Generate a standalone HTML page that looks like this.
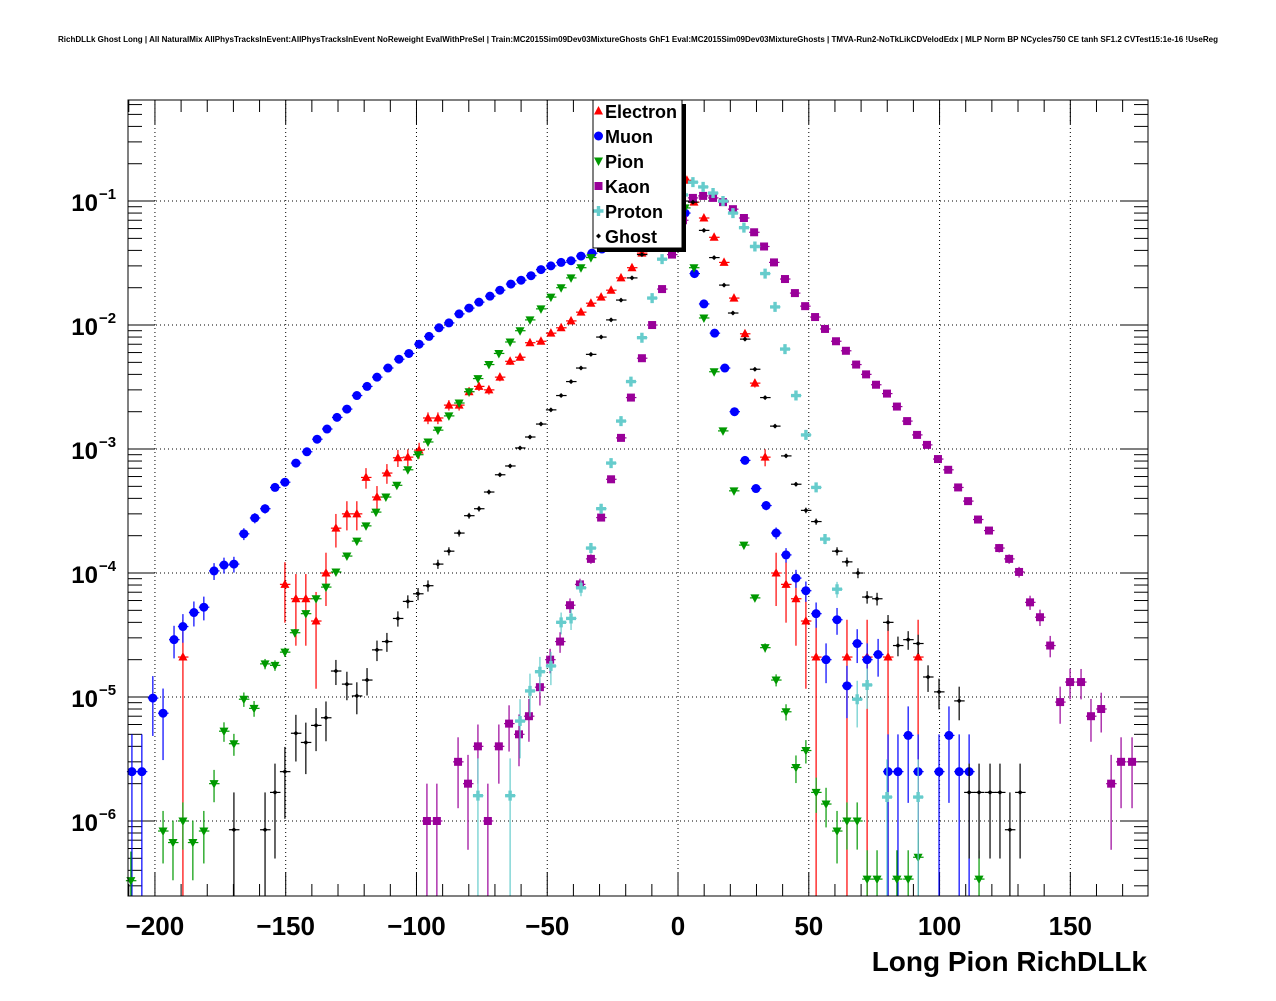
<!DOCTYPE html>
<html><head><meta charset="utf-8">
<style>
html,body{margin:0;padding:0;background:#fff;}
body{width:1276px;height:996px;overflow:hidden;font-family:"Liberation Sans",sans-serif;}
svg text{font-family:"Liberation Sans",sans-serif;font-weight:bold;}
</style></head>
<body>
<svg id="chart" width="1276" height="996" xmlns="http://www.w3.org/2000/svg">
<text x="638" y="42" font-size="8" text-anchor="middle" textLength="1160" lengthAdjust="spacingAndGlyphs">RichDLLk Ghost Long | All NaturalMix AllPhysTracksInEvent:AllPhysTracksInEvent NoReweight EvalWithPreSel | Train:MC2015Sim09Dev03MixtureGhosts GhF1 Eval:MC2015Sim09Dev03MixtureGhosts | TMVA-Run2-NoTkLikCDVelodEdx | MLP Norm BP NCycles750 CE tanh SF1.2 CVTest15:1e-16 !UseReg</text>
<g id="grid"></g>
<g id="axes"></g>
<g id="series"></g>
<rect x="128" y="100" width="1020" height="796" fill="none" stroke="#000" stroke-width="1"/>
<text x="1147" y="971" font-size="28" text-anchor="end">Long Pion RichDLLk</text>
<g id="legend"></g>
</svg>
<script>
// ---- data ----
const seriesNames = ["Electron","Muon","Pion","Kaon","Proton","Ghost"];
const electronX = [-189.3,-150.3,-146.1,-142.3,-138.4,-134.6,-130.8,-126.6,-122.8,-119.3,-115.1,-111.3,-107.1,-103.3,-99,-95.6,-91.8,-87.6,-83.7,-79.9,-76.1,-72.3,-68.1,-64.2,-60.4,-56.6,-52.4,-48.6,-44.7,-40.9,-37.1,-33.3,-29.4,-25.6,-21.8,-17.6,-13.8,-9.9,-5.7,-1.9,3.4,6.1,9.9,13.8,17.6,21.4,25.6,29.4,33.3,37.5,41.3,45.1,48.9,52.8,64.6,72.3,80.3,91.8];
const electronY = [2.1e-5,8.1e-5,6.2e-5,6.2e-5,4.1e-5,1.0e-4,2.3e-4,3.0e-4,3.0e-4,5.9e-4,4.1e-4,6.4e-4,8.5e-4,8.6e-4,9.8e-4,1.78e-3,1.78e-3,2.26e-3,2.26e-3,2.9e-3,3.2e-3,3.0e-3,3.8e-3,5.1e-3,5.5e-3,7.2e-3,7.4e-3,8.6e-3,9.5e-3,1.08e-2,1.27e-2,1.5e-2,1.68e-2,1.91e-2,2.4e-2,2.9e-2,3.8e-2,5.0e-2,7.0e-2,0.106,0.147,9.8e-2,7.3e-2,5.1e-2,3.2e-2,1.65e-2,8.5e-3,3.4e-3,8.6e-4,1.0e-4,8.1e-5,6.2e-5,4.1e-5,2.1e-5,2.1e-5,2.1e-5,2.1e-5,2.1e-5];
const muonX = [-208.8,-205,-200.8,-196.9,-192.7,-189.3,-185.1,-181.3,-177.4,-173.6,-169.8,-166,-161.8,-157.9,-154.1,-150.3,-146.1,-141.9,-138,-134.2,-130.4,-126.6,-122.8,-118.9,-115.1,-110.9,-106.7,-102.9,-99,-95.2,-91.4,-87.6,-83.7,-79.9,-76.1,-71.9,-68.1,-63.9,-60,-56.2,-52.4,-48.6,-44.7,-40.9,-37.1,-32.9,-29.1,-25.2,-21,-17.2,-13.4,-9.2,-5.4,-1.1,2.7,6.3,9.9,14,17.9,21.6,25.6,29.8,33.7,37.5,41.3,45.1,48.9,52.8,56.6,60.8,64.6,68.5,72.3,76.5,80.3,84.1,88,91.8,99.8,103.6,107.5,111.3];
const muonY = [2.5e-6,2.5e-6,9.8e-6,7.4e-6,2.9e-5,3.7e-5,4.8e-5,5.3e-5,1.04e-4,1.16e-4,1.18e-4,2.07e-4,2.78e-4,3.3e-4,4.9e-4,5.4e-4,7.7e-4,9.5e-4,1.2e-3,1.45e-3,1.8e-3,2.1e-3,2.7e-3,3.2e-3,3.8e-3,4.5e-3,5.3e-3,5.9e-3,7.0e-3,8.1e-3,9.5e-3,1.04e-2,1.23e-2,1.37e-2,1.53e-2,1.71e-2,1.91e-2,2.14e-2,2.3e-2,2.5e-2,2.8e-2,3.0e-2,3.2e-2,3.3e-2,3.6e-2,3.8e-2,4.1e-2,4.3e-2,4.6e-2,4.9e-2,5.2e-2,5.6e-2,6.2e-2,7.0e-2,8.0e-2,2.6e-2,1.48e-2,8.6e-3,4.5e-3,2.0e-3,8.1e-4,4.8e-4,3.5e-4,2.1e-4,1.4e-4,9.1e-5,7.2e-5,4.7e-5,2.0e-5,4.2e-5,1.23e-5,2.7e-5,2.0e-5,2.2e-5,2.5e-6,2.5e-6,4.9e-6,2.5e-6,2.5e-6,4.9e-6,2.5e-6,2.5e-6];
const pionX = [-209.2,-196.9,-193.1,-189.3,-185.5,-181.3,-177.4,-173.6,-169.8,-166,-162.1,-157.9,-154.1,-150.3,-146.5,-142.3,-138.4,-134.6,-130.8,-126.6,-122.8,-119.3,-115.5,-111.7,-107.5,-103.3,-99.4,-95.6,-91.8,-87.6,-83.7,-79.9,-76.5,-72.3,-68.5,-64.2,-60.4,-56.6,-52.4,-48.6,-44.7,-40.9,-37.1,-33.3,-29.4,-25.2,-21.4,-17.6,-13.4,-9.6,-5.7,-1.5,2.7,6.1,9.9,13.8,17.2,21.4,25.2,29.4,33.3,37.5,41.3,45.1,48.9,52.8,56.6,60.8,64.6,68.5,72.3,76.1,83.7,88,91.8,115.1];
const pionY = [3.3e-7,8.3e-7,6.7e-7,1.0e-6,6.7e-7,8.3e-7,2.0e-6,5.3e-6,4.2e-6,9.6e-6,8.1e-6,1.85e-5,1.8e-5,2.3e-5,3.3e-5,4.7e-5,6.2e-5,7.7e-5,1.02e-4,1.37e-4,1.81e-4,2.4e-4,3.1e-4,4.1e-4,5.1e-4,6.8e-4,9.0e-4,1.14e-3,1.42e-3,1.85e-3,2.35e-3,2.9e-3,3.7e-3,4.8e-3,5.9e-3,7.3e-3,9.0e-3,1.1e-2,1.35e-2,1.68e-2,2.0e-2,2.4e-2,2.9e-2,3.5e-2,4.2e-2,4.8e-2,5.6e-2,6.4e-2,7.4e-2,8.5e-2,9.3e-2,9.6e-2,8.8e-2,2.9e-2,1.14e-2,4.2e-3,1.4e-3,4.6e-4,1.68e-4,6.3e-5,2.5e-5,1.37e-5,7.6e-6,2.7e-6,3.7e-6,1.7e-6,1.37e-6,8.3e-7,1.0e-6,1.0e-6,3.4e-7,3.4e-7,3.4e-7,3.4e-7,5.1e-7,3.4e-7];
const kaonX = [-96,-92.2,-84.1,-80.3,-76.5,-72.7,-68.5,-64.6,-60.8,-57,-52.8,-48.9,-45.1,-41.3,-37.5,-33.3,-29.4,-25.6,-21.8,-18,-13.8,-9.9,-6.1,-2.3,1.9,5.7,9.6,13.4,17.2,21,25.2,29.1,32.9,36.7,40.9,44.7,48.6,52.4,56.2,60.4,64.2,68.1,71.9,75.7,79.9,83.7,87.6,91.4,95.2,99.4,103.3,107.1,110.9,114.7,118.9,122.8,126.6,130.4,134.6,138.4,142.3,146.1,149.9,154.1,157.9,161.8,165.6,169.4,173.6];
const kaonY = [1.0e-6,1.0e-6,3.0e-6,2.0e-6,4.0e-6,1.0e-6,4.0e-6,6.1e-6,5.0e-6,7.0e-6,1.2e-5,2.0e-5,2.8e-5,5.5e-5,8.1e-5,1.3e-4,2.8e-4,5.7e-4,1.23e-3,2.6e-3,5.4e-3,1.0e-2,1.95e-2,3.7e-2,7.0e-2,0.106,0.11,0.106,9.8e-2,8.6e-2,7.3e-2,5.6e-2,4.3e-2,3.2e-2,2.35e-2,1.81e-2,1.42e-2,1.16e-2,9.3e-3,7.4e-3,6.2e-3,4.8e-3,4.0e-3,3.3e-3,2.8e-3,2.2e-3,1.68e-3,1.3e-3,1.08e-3,8.3e-4,6.8e-4,4.9e-4,3.8e-4,2.7e-4,2.2e-4,1.59e-4,1.3e-4,1.02e-4,5.8e-5,4.4e-5,2.6e-5,9.1e-6,1.32e-5,1.32e-5,7.0e-6,8.0e-6,2.0e-6,3.0e-6,3.0e-6];
const protonX = [-76.5,-64.2,-60.4,-56.6,-52.8,-48.6,-44.7,-40.9,-37.1,-33.3,-29.4,-25.6,-21.8,-18,-13.8,-9.9,-6.1,-2.3,1.9,5.7,9.6,13.4,17.2,21,25.2,29.4,33.3,37.1,40.9,45.1,48.9,52.8,56.2,60.8,68.5,72.3,79.9,91.8];
const protonY = [1.6e-6,1.6e-6,6.4e-6,1.12e-5,1.6e-5,1.78e-5,4.0e-5,4.3e-5,7.6e-5,1.59e-4,3.3e-4,7.7e-4,1.68e-3,3.5e-3,7.9e-3,1.65e-2,3.4e-2,6.1e-2,0.112,0.142,0.13,0.116,0.1,8.0e-2,6.1e-2,4.3e-2,2.6e-2,1.4e-2,6.4e-3,2.7e-3,1.3e-3,4.9e-4,1.88e-4,7.4e-5,9.6e-6,1.25e-5,1.56e-6,1.56e-6];
const ghostX = [-169.8,-157.9,-154.1,-150.3,-146.1,-142.3,-138.4,-134.6,-130.8,-126.6,-122.8,-118.9,-115.1,-111.3,-107.1,-103.3,-99.4,-95.6,-91.8,-87.6,-83.7,-79.9,-76.1,-72.3,-68.1,-64.2,-60.4,-56.6,-52.4,-48.6,-44.7,-40.9,-37.1,-33.3,-29.4,-25.6,-21.8,-17.6,-13.8,-9.9,-5.7,-1.9,1.9,5.7,9.9,13.8,17.6,21,25.6,29.4,33.3,37.1,41.3,45.1,48.9,52.8,60.8,64.6,68.8,72.3,76.1,80.3,84.1,88,91.8,95.6,99.8,107.5,111.3,115.1,119.3,123.1,126.9,130.8];
const ghostY = [8.5e-7,8.5e-7,1.7e-6,2.5e-6,5.1e-6,4.3e-6,5.9e-6,6.8e-6,1.62e-5,1.27e-5,1.02e-5,1.37e-5,2.4e-5,2.8e-5,4.3e-5,5.9e-5,6.8e-5,7.9e-5,1.18e-4,1.5e-4,2.1e-4,2.9e-4,3.3e-4,4.5e-4,6.2e-4,7.3e-4,1.02e-3,1.25e-3,1.59e-3,2.07e-3,2.7e-3,3.5e-3,4.5e-3,5.8e-3,8.0e-3,1.1e-2,1.59e-2,2.4e-2,3.7e-2,4.9e-2,6.4e-2,8.5e-2,0.1,9.8e-2,5.8e-2,3.5e-2,2.1e-2,1.25e-2,7.7e-3,4.4e-3,2.6e-3,1.53e-3,8.8e-4,5.2e-4,3.2e-4,2.6e-4,1.5e-4,1.23e-4,1.0e-4,6.4e-5,6.2e-5,4.0e-5,2.6e-5,2.9e-5,2.7e-5,1.45e-5,1.1e-5,9.3e-6,1.7e-6,1.7e-6,1.7e-6,1.7e-6,8.5e-7,1.7e-6];
const xTickValues = [-200,-150,-100,-50,0,50,100,150];
const xTickLabels = ["\u2212200","\u2212150","\u2212100","\u221250","0","50","100","150"];
const yTickExponents = [-6,-5,-4,-3,-2,-1];

// ---- axes ----
const X0=128, X1=1148, Y0=100, Y1=896;
const XMIN=-210.3, XMAX=179.7;
const LOGMIN=-6.605, LOGMAX=-0.185;
function xs(v){return X0+(v-XMIN)/(XMAX-XMIN)*(X1-X0);}
function ys(v){return Y1-(Math.log10(v)-LOGMIN)/(LOGMAX-LOGMIN)*(Y1-Y0);}
const NS="http://www.w3.org/2000/svg";
function mk(tag,attrs,parent){const e=document.createElementNS(NS,tag);for(const k in attrs)e.setAttribute(k,attrs[k]);parent.appendChild(e);return e;}
const grid=document.getElementById('grid'), axes=document.getElementById('axes'), ser=document.getElementById('series'), leg=document.getElementById('legend');

xTickValues.forEach((v,i)=>{
  const x=xs(v);
  const g=mk('line',{x1:x,x2:x,y1:Y0,y2:Y1,stroke:'#000','stroke-width':1,'stroke-dasharray':'1,3'},grid);
  
  
  const t=mk('text',{x:x,y:935,'font-size':26,'text-anchor':'middle'},axes);
  t.textContent=xTickLabels[i];
  
  
});
for(let v=-210;v<=175;v+=10){
  const x=xs(v); if(x<X0||x>X1)continue;
  const major=(v%50===0);
  const L=major?24:12;
  mk('line',{x1:x,x2:x,y1:Y1,y2:Y1-L,stroke:'#000','stroke-width':1},axes);
  mk('line',{x1:x,x2:x,y1:Y0,y2:Y0+L,stroke:'#000','stroke-width':1},axes);
}
for(let e=-7;e<=0;e++){
  for(let m=1;m<=9;m++){
    const v=m*Math.pow(10,e); const y=ys(v);
    if(y<Y0||y>Y1)continue;
    const L=(m===1)?27:14;
    mk('line',{x1:X0,x2:X0+L,y1:y,y2:y,stroke:'#000','stroke-width':1},axes);
    mk('line',{x1:X1,x2:X1-L,y1:y,y2:y,stroke:'#000','stroke-width':1},axes);
  }
}
yTickExponents.forEach(e=>{
  const y=ys(Math.pow(10,e));
  const g=mk('line',{x1:X0,x2:X1,y1:y,y2:y,stroke:'#000','stroke-width':1,'stroke-dasharray':'1,3'},grid);
  
  
  const t=mk('text',{x:98,y:y+10,'font-size':24,'text-anchor':'end'},axes);
  t.textContent='10';
  
  
  const s=mk('text',{x:99,y:y-2,'font-size':15,'text-anchor':'start'},axes);
  s.textContent='\u2212'+Math.abs(e);
  
  
});

// ---- series ----
const colors={Electron:'#ff0000',Muon:'#0000ff',Pion:'#009900',Kaon:'#990099',Proton:'#66cccc',Ghost:'#000000'};
const weights={Electron:2.1e-5,Muon:2.5e-6,Pion:1.7e-7,Kaon:1.0e-6,Proton:1.6e-6,Ghost:8.5e-7};
const dataX={Electron:electronX,Muon:muonX,Pion:pionX,Kaon:kaonX,Proton:protonX,Ghost:ghostX};
const dataY={Electron:electronY,Muon:muonY,Pion:pionY,Kaon:kaonY,Proton:protonY,Ghost:ghostY};

function marker(name,x,y,parent){
  const c=colors[name]; let el;
  if(name==='Electron') el=mk('polygon',{points:`${x},${y-5} ${x-4.5},${y+3.5} ${x+4.5},${y+3.5}`,fill:c},parent);
  else if(name==='Muon') el=mk('circle',{cx:x,cy:y,r:4.5,fill:c},parent);
  else if(name==='Pion') el=mk('polygon',{points:`${x-4.5},${y-3.5} ${x+4.5},${y-3.5} ${x},${y+5}`,fill:c},parent);
  else if(name==='Kaon') el=mk('rect',{x:x-4,y:y-4,width:8,height:8,fill:c},parent);
  else if(name==='Proton') el=mk('path',{d:`M${x-5},${y-1.7}h3.3v-3.3h3.4v3.3h3.3v3.4h-3.3v3.3h-3.4v-3.3h-3.3z`,fill:c},parent);
  else el=mk('path',{d:`M${x},${y-2.5}L${x+2.5},${y}L${x},${y+2.5}L${x-2.5},${y}z`,fill:c},parent);
  return el;
}

seriesNames.forEach(name=>{
  const g=mk('g',{},ser);
  
  
  const X=dataX[name], Y=dataY[name], c=colors[name], w=weights[name];
  X.forEach((xv,i)=>{
    const v=Y[i]; const px=xs(xv), py=ys(v);
    const err=Math.sqrt(v*w);
    const top=ys(v+err);
    const lo=v-err; const bot=lo>0?Math.min(ys(lo),Y1):Y1;
    const eb=mk('line',{x1:px,x2:px,y1:top,y2:bot,stroke:c,'stroke-width':1.2},g);
    
    
    const hb=mk('line',{x1:px-5,x2:px+5.5,y1:py,y2:py,stroke:c,'stroke-width':1.2},g);
    
    
    const m=marker(name,px,py,g);
    
    
  });
});

// ---- legend ----
const shadow=mk('rect',{x:597,y:104,width:89,height:148,fill:'#000'},leg);


const box=mk('rect',{x:593,y:100,width:89,height:148,fill:'#fff',stroke:'#000','stroke-width':1},leg);


seriesNames.forEach((name,i)=>{
  const y=111+i*25;
  const g=mk('g',{},leg);
  
  
  marker(name,598.5,y,g);
  const t=mk('text',{x:605,y:y+7,'font-size':18},g);
  t.textContent=name;
});
</script>
</body></html>
